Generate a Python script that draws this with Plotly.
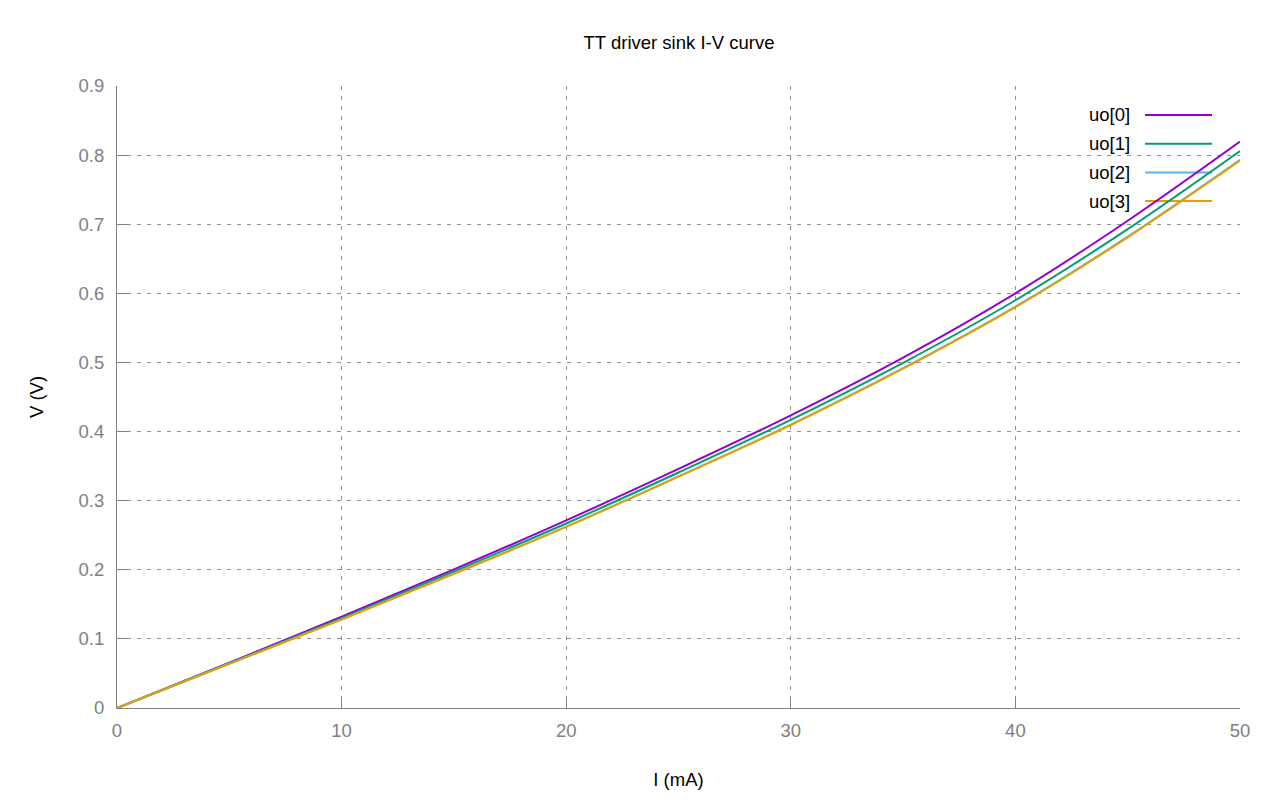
import plotly.graph_objects as go

# sink current (mA) and output voltage (V) per driver output
current_ma = [0, 5, 10, 15, 20, 25, 30, 35, 40, 45, 50]
uo0 = [0, 0.0655, 0.132, 0.2005, 0.2715, 0.346, 0.4235, 0.507, 0.600, 0.705, 0.8195]
uo1 = [0, 0.0648, 0.130, 0.1975, 0.267, 0.3408, 0.417, 0.4995, 0.590, 0.693, 0.806]
uo2 = [0, 0.0641, 0.1282, 0.1946, 0.2624, 0.3352, 0.4101, 0.4917, 0.5808, 0.682, 0.7933]
uo3 = [0, 0.0640, 0.128, 0.1943, 0.262, 0.3347, 0.4095, 0.491, 0.580, 0.681, 0.792]

names = ["uo[0]", "uo[1]", "uo[2]", "uo[3]"]
colors = ["#9400d3", "#009e73", "#56b4e9", "#e69f00"]   # gnuplot defaults

FONT = "Liberation Sans, Arial, sans-serif"
GRAY = "#808080"

# page has an 8px body margin; figure sized so the plot lands where gnuplot put it
OFF = 8
FIG_W, FIG_H = 1280 - 2 * OFF, 800 - 2 * OFF
X0, X1, Y0, Y1 = 117, 1240, 86, 708          # plot box on the page (px)
L, T = X0 - OFF, Y0 - OFF
R, B = FIG_W - (X1 - OFF), FIG_H - (Y1 - OFF)


def px(x):
    return (x - X0) / (X1 - X0)


def py(y):
    return (Y1 - y) / (Y1 - Y0)


fig = go.Figure()
for name, col, v in zip(names, colors, [uo0, uo1, uo2, uo3]):
    fig.add_trace(go.Scatter(x=current_ma, y=v, name=name, mode="lines",
                             line=dict(color=col, width=2, shape="spline", smoothing=1.0),
                             showlegend=False))

# gnuplot-style opaque key, samples to the right of the labels
shapes = [dict(type="rect", xref="paper", yref="paper", layer="between",
               x0=px(1060), x1=px(1234), y0=py(96), y1=py(214),
               fillcolor="white", line=dict(width=0))]
annotations = []
for i, (name, col) in enumerate(zip(names, colors)):
    yy = py(115 + i * 28.7)
    shapes.append(dict(type="line", xref="paper", yref="paper", layer="between",
                       x0=px(1145), x1=px(1212), y0=yy, y1=yy,
                       line=dict(color=col, width=2)))
    annotations.append(dict(text=name, xref="paper", yref="paper", x=px(1132), y=yy,
                            xanchor="right", yanchor="middle", showarrow=False,
                            font=dict(family=FONT, size=18.5, color="black")))

axis_common = dict(showline=True, linecolor=GRAY, linewidth=1,
                   ticks="inside", ticklen=10, tickcolor=GRAY,
                   tickfont=dict(family=FONT, size=18.5, color=GRAY),
                   showgrid=True, gridcolor="#909090", gridwidth=1.2, griddash="4px,6px",
                   zeroline=False, mirror=False, automargin=False)

fig.update_layout(
    width=FIG_W, height=FIG_H,
    margin=dict(l=L, r=R, t=T, b=B),
    paper_bgcolor="white", plot_bgcolor="white",
    font=dict(family=FONT, size=18.5, color="black"),
    title=dict(text="TT driver sink I-V curve", x=px(679), xref="paper",
               xanchor="center", y=1 - (43 - OFF) / FIG_H, yref="container",
               yanchor="middle", automargin=False,
               font=dict(family=FONT, size=18.5, color="black")),
    xaxis=dict(range=[0, 50], tickvals=[0, 10, 20, 30, 40, 50],
               title=dict(text="I (mA)", standoff=32,
                          font=dict(family=FONT, size=18.5, color="black")),
               ticklabelstandoff=6, **axis_common),
    yaxis=dict(range=[0, 0.9], tickvals=[0, 0.1, 0.2, 0.3, 0.4, 0.5, 0.6, 0.7, 0.8, 0.9],
               ticktext=["0", "0.1", "0.2", "0.3", "0.4", "0.5", "0.6", "0.7", "0.8", "0.9"],
               title=dict(text="V (V)", standoff=30,
                          font=dict(family=FONT, size=18.5, color="black")),
               ticklabelstandoff=8, **axis_common),
    shapes=shapes,
    annotations=annotations,
)

fig.write_html("out.html")
